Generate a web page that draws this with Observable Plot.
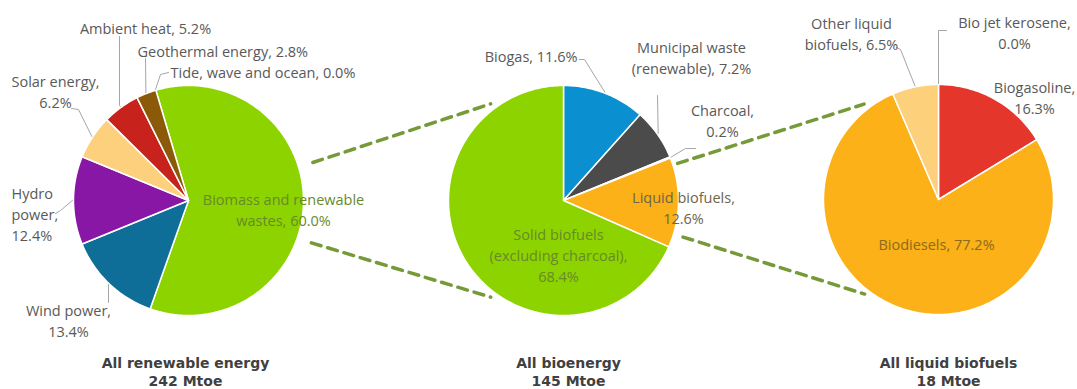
<!DOCTYPE html>
<html>
<head>
<meta charset="utf-8">
<script src="https://cdn.jsdelivr.net/npm/d3@7"></script>
<script src="https://cdn.jsdelivr.net/npm/@observablehq/plot@0.6"></script>
<style>
  html, body { margin: 0; padding: 0; background: #ffffff; }
  #chart svg { display: block; }
</style>
</head>
<body>
<div id="chart"></div>
<script>
// ---------------- DATA ----------------
const renewableCategories = ["Biomass and renewable wastes", "Wind power", "Hydro power", "Solar energy", "Ambient heat", "Geothermal energy", "Tide, wave and ocean"];
const renewableShares = [60.0, 13.4, 12.4, 6.2, 5.2, 2.8, 0.0];

const bioenergyCategories = ["Biogas", "Municipal waste (renewable)", "Charcoal", "Liquid biofuels", "Solid biofuels (excluding charcoal)"];
const bioenergyShares = [11.6, 7.2, 0.2, 12.6, 68.4];

const liquidCategories = ["Bio jet kerosene", "Biogasoline", "Biodiesels", "Other liquid biofuels"];
const liquidShares = [0.0, 16.3, 77.2, 6.5];

const pieTitles = ["All renewable energy", "All bioenergy", "All liquid biofuels"];
const pieTotalsMtoe = [242, 145, 18];

// ---------------- STYLE / LAYOUT ----------------
const palette = {
  "Biomass and renewable wastes": "#8dd300",
  "Wind power": "#0e6e98",
  "Hydro power": "#8817a5",
  "Solar energy": "#fcd07c",
  "Ambient heat": "#c8221c",
  "Geothermal energy": "#8a5a08",
  "Tide, wave and ocean": "#1f5f8b",
  "Biogas": "#0a8fd0",
  "Municipal waste (renewable)": "#4b4b4b",
  "Charcoal": "#b4b4c8",
  "Liquid biofuels": "#fbb117",
  "Solid biofuels (excluding charcoal)": "#8dd300",
  "Bio jet kerosene": "#5b9bd5",
  "Biogasoline": "#e4362a",
  "Biodiesels": "#fbb117",
  "Other liquid biofuels": "#fdd07c"
};

const pies = [
  {cats: renewableCategories, vals: renewableShares, title: pieTitles[0], total: pieTotalsMtoe[0],
   cx: 188, cy: 200, r: 115, start: -16.5, titleDx: -3, titleDy: 171},
  {cats: bioenergyCategories, vals: bioenergyShares, title: pieTitles[1], total: pieTotalsMtoe[1],
   cx: 563, cy: 200, r: 115, start: 0, titleDx: 5, titleDy: 171},
  {cats: liquidCategories, vals: liquidShares, title: pieTitles[2], total: pieTotalsMtoe[2],
   cx: 938, cy: 199, r: 115, start: 0, titleDx: 10, titleDy: 172}
];

// label placement relative to each pie centre; leader elbows relative to pie centre
const labelLayout = {
  "Biomass and renewable wastes": {dx: 95, dy: 8, anchor: "middle", tone: "green", wrap: [3, 2]},
  "Wind power": {dx: -120, dy: 119, anchor: "middle", wrap: [2, 1], leader: [[-80, 102]]},
  "Hydro power": {dx: -177, dy: 13, anchor: "start", wrap: [1, 1, 1], leader: [[-128, 10], [-133, 13]]},
  "Solar energy": {dx: -133, dy: -109.5, anchor: "middle", wrap: [2, 1], leader: [[-110, -91], [-117, -92]]},
  "Ambient heat": {dx: -43, dy: -173, anchor: "middle", wrap: [4], leader: [[-69, -95], [-69, -164]]},
  "Geothermal energy": {dx: -51, dy: -150, anchor: "start", wrap: [3], leader: [[-43, -142]]},
  "Tide, wave and ocean": {dx: -18, dy: -129, anchor: "start", wrap: [5], leader: [[-28, -126], [-20, -128]]},
  "Biogas": {dx: 14, dy: -145, anchor: "end", wrap: [2], leader: [[21, -141], [16, -141]]},
  "Municipal waste (renewable)": {dx: 128, dy: -144, anchor: "middle", wrap: [2, 2], leader: [[94, -105]]},
  "Charcoal": {dx: 159, dy: -81, anchor: "middle", wrap: [1, 1], leader: [[122, -52], [132, -52]]},
  "Liquid biofuels": {dx: 120, dy: 6, anchor: "middle", tone: "liquid", wrap: [2, 1]},
  "Solid biofuels (excluding charcoal)": {dx: -5, dy: 54, anchor: "middle", tone: "green", wrap: [2, 2, 1]},
  "Bio jet kerosene": {dx: 76, dy: -168, anchor: "middle", wrap: [3, 1], leader: [[0, -169], [8, -169]]},
  "Biogasoline": {dx: 96, dy: -103, anchor: "middle", wrap: [1, 1]},
  "Biodiesels": {dx: -2, dy: 44, anchor: "middle", tone: "brown", wrap: [2]},
  "Other liquid biofuels": {dx: -87, dy: -167, anchor: "middle", wrap: [2, 2], leader: [[-38, -150], [-42, -152]]}
};

// dashed connectors: [fromPie, angle, radiusOffset, toPie, angle, radiusOffset]
const connectorLayout = [
  [0, 73, 15, 1, -37, 6],
  [0, 109, 15, 1, 217, 6],
  [1, 72, 5, 2, -38, 6],
  [1, 107, 10, 2, 218, 5]
];

const toneColor = {outside: "#595959", green: "#668a2c", liquid: "#6e6448", brown: "#8c6a1c"};

// ---------------- GEOMETRY ----------------
const rad = (deg) => deg * Math.PI / 180;
const polar = (p, deg, radius) => ({x: p.cx + radius * Math.sin(rad(deg)), y: p.cy - radius * Math.cos(rad(deg))});

const slicePoints = [];
const leaderPoints = [];
const labels = [];
const titles = [];

pies.forEach((p, pi) => {
  let cum = 0;
  p.cats.forEach((cat, i) => {
    const v = p.vals[i];
    const a0 = p.start + 360 * cum / 100;
    const a1 = a0 + 360 * v / 100;
    cum += v;
    const key = pi + ":" + cat;
    if (v > 0) {
      slicePoints.push({key, cat, x: p.cx, y: p.cy});
      const n = Math.max(2, Math.ceil((a1 - a0) / 1));
      for (let k = 0; k <= n; k++) {
        const pt = polar(p, a0 + (a1 - a0) * k / n, p.r);
        slicePoints.push({key, cat, x: pt.x, y: pt.y});
      }
    }
    const L = labelLayout[cat];
    const words = `${cat}, ${v.toFixed(1)}%`.split(" ");
    const lines = [];
    let w = 0;
    L.wrap.forEach((cnt) => { lines.push(words.slice(w, w + cnt).join(" ")); w += cnt; });
    labels.push({x: p.cx + L.dx, y: p.cy + L.dy, text: lines.join("\n"), anchor: L.anchor, tone: L.tone || "outside"});
    if (L.leader) {
      const mid = (a0 + a1) / 2;
      const rim = polar(p, mid, p.r + 1);
      leaderPoints.push({key, x: rim.x, y: rim.y});
      L.leader.forEach(([ex, ey]) => leaderPoints.push({key, x: p.cx + ex, y: p.cy + ey}));
    }
  });
  titles.push({x: p.cx + p.titleDx, y: p.cy + p.titleDy, text: `${p.title}\n${p.total} Mtoe`});
});

const connectorPoints = [];
connectorLayout.forEach(([pa, aa, oa, pb, ab, ob], i) => {
  const A = polar(pies[pa], aa, pies[pa].r + oa);
  const B = polar(pies[pb], ab, pies[pb].r + ob);
  connectorPoints.push({id: i, ...A}, {id: i, ...B});
});

const colorDomain = Object.keys(palette);
const colorRange = colorDomain.map((c) => palette[c]);

const labelFont = "'Open Sans', 'DejaVu Sans', sans-serif";
const textGroup = (anchor, tone) =>
  Plot.text(labels.filter((d) => d.anchor === anchor && d.tone === tone), {
    x: "x", y: "y", text: "text", textAnchor: anchor, fill: toneColor[tone],
    fontSize: 14.5, lineHeight: 1.45, fontFamily: labelFont
  });

const groups = [];
labels.forEach((d) => { if (!groups.some((g) => g[0] === d.anchor && g[1] === d.tone)) groups.push([d.anchor, d.tone]); });

const chart = Plot.plot({
  width: 1077,
  height: 389,
  margin: 0,
  x: {domain: [0, 1077], range: [0, 1077], axis: null},
  y: {domain: [0, 389], range: [0, 389], axis: null},
  color: {domain: colorDomain, range: colorRange},
  style: {background: "#ffffff"},
  marks: [
    Plot.line(connectorPoints, {x: "x", y: "y", z: "id", stroke: "#779a39", strokeWidth: 3.5, strokeDasharray: "10,7"}),
    Plot.line(slicePoints, {x: "x", y: "y", z: "key", fill: "cat", stroke: "#ffffff", strokeWidth: 1.5, strokeLinejoin: "round", curve: "linear-closed"}),
    Plot.line(leaderPoints, {x: "x", y: "y", z: "key", stroke: "#a6a6a6", strokeWidth: 1}),
    ...groups.map(([a, t]) => textGroup(a, t)),
    Plot.text(titles, {x: "x", y: "y", text: "text", fill: "#404040", fontWeight: "bold", fontSize: 14, lineHeight: 1.3, fontFamily: "'DejaVu Sans', sans-serif"})
  ]
});

document.getElementById("chart").appendChild(chart);
</script>
</body>
</html>
